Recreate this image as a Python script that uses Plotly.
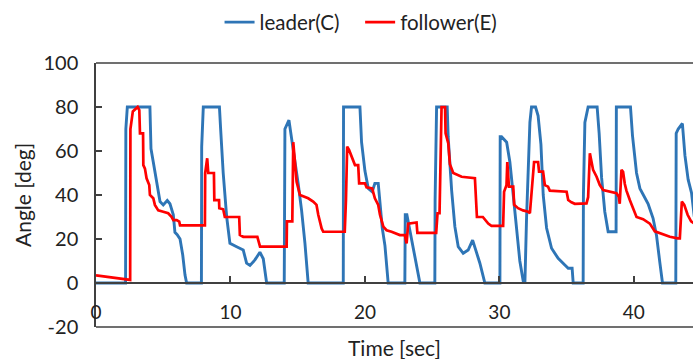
import plotly.graph_objects as go

# ---- data (time in sec, angle in deg) ----
leader_t = [0, 2.2, 2.22, 2.33, 4.01, 4.09, 4.26, 4.51, 4.76, 5.0, 5.3, 5.5, 5.75, 5.87, 6.04, 6.25, 6.45, 6.62, 6.74,
            7.84, 7.86, 7.98, 9.18, 9.26, 9.46, 9.72, 9.96, 10.46, 10.95, 11.2, 11.45, 11.82, 12.19, 12.44, 12.57, 12.69,
            14.0, 14.05, 14.35, 14.55, 14.67, 15.04, 15.29, 15.54, 15.78,
            18.39, 18.41, 19.63, 19.75, 20.0, 20.25, 20.54, 20.74, 20.99, 21.12, 21.29, 21.49, 21.73,
            22.97, 23.0, 23.12, 23.35, 23.59, 23.84, 24.09,
            25.2, 25.22, 25.33, 26.12, 26.19, 26.32, 26.45, 26.69, 26.94, 27.31, 27.68, 28.01, 28.3, 28.55, 28.92,
            30.04, 30.06, 30.16, 30.54, 30.78, 31.03, 31.28, 31.52, 31.77, 31.9, 32.02, 32.14, 32.27, 32.39,
            32.69, 32.88, 33.09, 33.26, 33.51, 33.88, 34.37, 34.87, 35.12, 35.41, 35.49,
            36.23, 36.25, 36.36, 36.6, 37.27, 37.42, 37.6, 37.84, 38.09, 38.68, 38.7, 39.75, 39.9, 40.2, 40.45,
            40.82, 41.06, 41.43, 41.69, 41.93, 42.13,
            43.12, 43.15, 43.3, 43.61, 43.8, 44.04, 44.29, 44.5]
leader_v = [0, 0, 70, 80, 80, 61, 55, 46, 37, 35.5, 37.5, 36, 31, 23, 22, 20, 12.7, 3.6, 0,
            0, 62, 80, 80, 71, 50, 30, 18, 16.5, 15, 9, 8, 10.5, 14, 11, 5, 0,
            0, 70, 74, 64, 60.5, 45, 33, 18, 0,
            0, 80, 80, 64, 51, 43, 41.5, 45.3, 45.3, 36, 25, 17, 0,
            0, 31, 31, 24, 16.5, 9, 0,
            0, 37.7, 80, 80, 66.5, 53, 42, 25.6, 16.5, 13.5, 15, 19.5, 13.5, 9, 0,
            0, 66.5, 66.5, 64, 55, 40, 25, 10, 1, 0.5, 29.4, 55, 73, 80,
            80, 76, 63, 40, 25, 15.8, 11.2, 8.2, 6.7, 6.7, 0,
            0, 40, 73, 80, 80, 68, 48, 32.4, 23.3, 23.3, 80, 80, 67, 50, 43,
            38.5, 36, 29.4, 21.5, 9.5, 0,
            0, 68, 70, 72.5, 58, 47, 41, 30]

follower_t = [0, 0.6, 1.5, 2.5, 2.54, 2.56, 2.74, 3.1, 3.22, 3.27, 3.5, 3.52, 3.64, 3.76, 3.96, 4.01, 4.26, 4.38, 4.63,
              5.0, 5.37, 5.63, 5.75, 6.0, 6.19, 6.25,
              8.1, 8.12, 8.27, 8.35, 8.77, 8.8, 9.15, 9.17, 9.46, 9.58, 10.65, 10.7, 10.95, 12.0, 12.1, 12.2, 12.57,
              14.18, 14.2, 14.6, 14.67, 14.8, 14.92, 15.17, 15.78, 16.15, 16.4, 16.53, 16.78, 16.9,
              18.5, 18.59, 18.68, 18.82, 19.0, 19.26, 19.5, 19.57, 20.0, 20.12, 20.54, 20.74, 20.99, 21.12, 21.37,
              21.61, 21.98, 22.6, 22.97, 23.1, 23.22, 23.84, 23.9,
              25.3, 25.4, 25.55, 25.7, 25.96, 26.0, 26.2, 26.32, 26.57, 27.19, 28.18, 28.33, 28.77, 29.17, 29.41,
              30.28, 30.35, 30.53, 30.59, 30.71, 31.03, 31.1, 31.39, 31.76, 32.14, 32.27, 32.39, 32.58, 32.88, 32.95,
              33.25, 33.38, 33.62, 33.75, 35.0, 35.12, 35.36, 35.61, 36.48, 36.6, 36.73, 36.97, 37.23, 37.47, 37.72,
              38.22, 38.71, 38.88, 38.95, 39.08, 39.2, 39.33, 39.45, 39.7, 39.95, 40.2, 40.69, 41.19, 41.56, 41.93,
              42.68, 43.27, 43.42, 43.57, 43.75, 44.0, 44.26, 44.5]
follower_v = [3.5, 3, 2, 1.4, 1.4, 70, 78, 80, 78.6, 68, 68, 53.6, 52, 47.6, 44.5, 40, 38.5, 35.5, 33,
              32.4, 31.7, 30, 28.6, 28.6, 27.9, 26.2,
              26.2, 50, 56.7, 50, 50, 37.7, 37.7, 34, 33.5, 30, 30, 21.8, 21, 21, 18.8, 16.5, 16.5,
              16.5, 28, 28, 64, 56, 46, 40, 38.5, 37, 35.5, 31, 24.8, 23.3,
              23.3, 37.7, 62, 60.5, 57.4, 53.6, 53.6, 45.3, 45.3, 43.5, 43, 38.5, 35.5, 31, 25.6,
              24, 23.3, 21.8, 21.8, 18, 27, 27.5, 22.8,
              22.8, 31.7, 31.7, 80, 80, 68, 63.5, 54, 50, 48.3, 47.6, 30, 30, 27, 26,
              26, 41.5, 44.5, 55, 43.8, 43.8, 35.5, 34, 33, 32.4, 31.7, 40, 55, 55, 50.6,
              50.6, 44.5, 43.8, 42, 41.5, 37.7, 36.7, 36, 36.2, 39, 59, 51.4, 48.3, 44.5, 42.3,
              41.5, 40.8, 39.2, 36, 51.4, 50.5, 45, 42, 37.7, 33.5, 30, 29, 27, 23.5, 22.6,
              21, 20.3, 20.3, 37, 35.5, 31, 28, 27]

x_ticks = [0, 10, 20, 30, 40]
y_ticks = [-20, 0, 20, 40, 60, 80, 100]

FONT = "Lato"
AX = "#404040"
TXT = "#222222"

fig = go.Figure()
fig.add_trace(go.Scatter(x=leader_t, y=leader_v, mode="lines", name="leader(C)\u00a0\u00a0\u00a0",
                         line=dict(color="#2E75B6", width=2.9)))
fig.add_trace(go.Scatter(x=follower_t, y=follower_v, mode="lines", name="follower(E)",
                         line=dict(color="#FF0000", width=2.7)))

fig.update_layout(
    width=693, height=359,
    margin=dict(l=96, r=0, t=63, b=32, pad=0, autoexpand=False),
    plot_bgcolor="white", paper_bgcolor="white",
    font=dict(family=FONT, color=TXT),
    showlegend=True,
    legend=dict(orientation="h", xref="container", yref="container",
                x=0.521, xanchor="center", y=0.938, yanchor="middle",
                font=dict(size=20.5, family=FONT, color=TXT), itemwidth=30,
                bgcolor="rgba(0,0,0,0)"),
    xaxis=dict(range=[0, 44.4], tickvals=x_ticks, ticktext=[str(v) for v in x_ticks],
               anchor="free", position=1/6, ticks="inside", ticklen=6, tickwidth=1.5, tickcolor=AX,
               showline=True, linecolor=AX, linewidth=1.5, showgrid=False, zeroline=False,
               automargin=False, ticklabelstandoff=12,
               tickfont=dict(size=19, family=FONT, color=TXT)),
    yaxis=dict(range=[-20, 100], tickvals=y_ticks, ticktext=[str(v) for v in y_ticks],
               ticks="inside", ticklen=6, tickwidth=1.5, tickcolor=AX,
               showline=True, linecolor=AX, linewidth=1.5, showgrid=False, zeroline=False,
               ticklabelstandoff=12, automargin=False,
               tickfont=dict(size=20, family=FONT, color=TXT)),
    shapes=[
        dict(type="line", xref="paper", yref="paper", x0=0, x1=1, y0=1, y1=1,
             line=dict(color=AX, width=1.5)),
        dict(type="line", xref="paper", yref="paper", x0=0, x1=1, y0=0, y1=0,
             line=dict(color=AX, width=1.5)),
    ],
    annotations=[
        dict(text="Angle [deg]", xref="paper", yref="paper", x=-0.124, y=0.5,
             textangle=-90, showarrow=False, xanchor="center", yanchor="middle",
             font=dict(size=21, family=FONT, color=TXT)),
        dict(text="Time [sec]", xref="paper", yref="paper", x=0.5, y=-0.076,
             showarrow=False, xanchor="center", yanchor="middle",
             font=dict(size=21, family=FONT, color=TXT)),
    ],
)

# remove the page's default body margin so the 693x359 figure fills the window exactly
fig.write_html(
    "out.html",
    config={"displayModeBar": False},
    post_script="document.body.style.margin='0';document.body.style.overflow='hidden';",
)
